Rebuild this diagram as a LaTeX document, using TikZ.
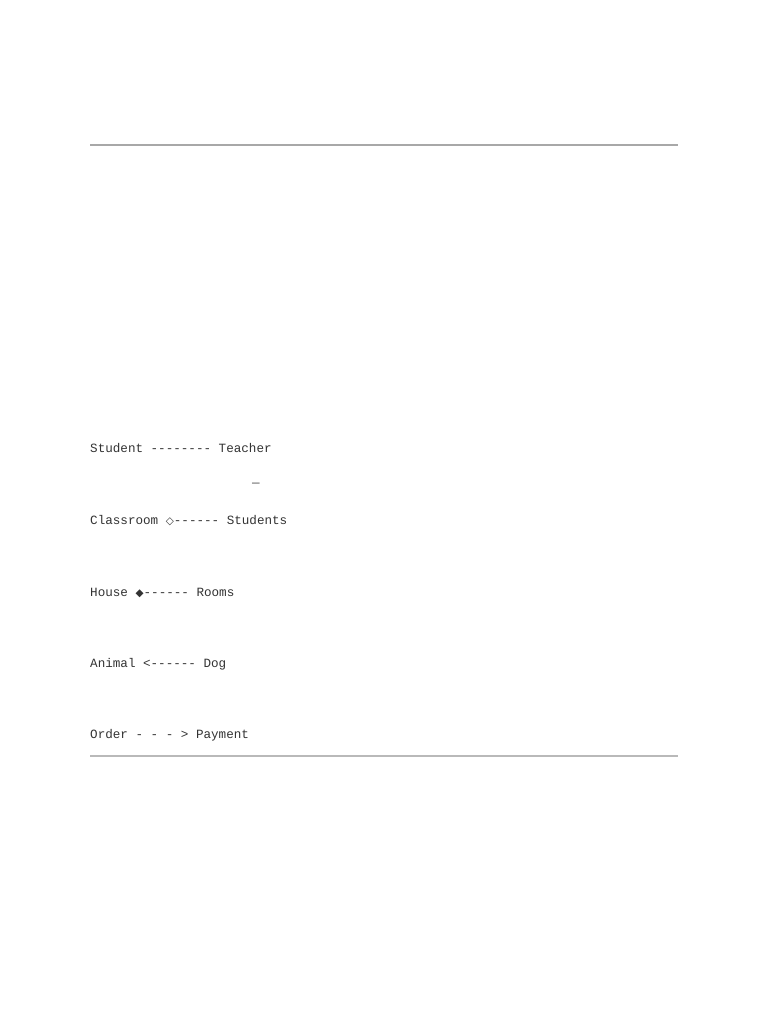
\documentclass[tikz,border=0pt]{standalone}
\usepackage{fontspec}
\setmonofont{Liberation Mono}
\newfontfamily\diamondfont{DejaVu Sans}
\usepackage{tikz}

\definecolor{textgray}{HTML}{333333}
\definecolor{rulegray}{HTML}{A8A8A8}

\tikzset{
    rowtext/.style={anchor=base west, inner sep=0, text=textgray, font=\ttfamily\fontsize{12.6}{15}\selectfont},
    hrule/.style={rulegray, line width=1.6pt}
}

\begin{document}
\begin{tikzpicture}[x=1pt, y=-1pt]
                \useasboundingbox[fill=white] (0,0) rectangle (768,1024);

                \coordinate (topL) at (90,145);
                \coordinate (topR) at (678,145);
                \coordinate (botL) at (90,756);
                \coordinate (botR) at (678,756);

                \draw[hrule] (topL) -- (topR);

                \node[rowtext](student) at (90,452) {Student -------- Teacher};
                \node[rowtext, text=black, font=\ttfamily\bfseries\fontsize{12.6}{15}\selectfont](mark) at (252,482) {\_};
                \node[rowtext](classroom) at (90,524) {Classroom {\diamondfont\fontsize{10.5}{15}\selectfont\char"25C7}------ Students};
                \node[rowtext](house) at (90,596) {House {\diamondfont\fontsize{10.5}{15}\selectfont\char"25C6}------ Rooms};
                \node[rowtext](animal) at (90,667) {Animal <------ Dog};
                \node[rowtext](order) at (90,738) {Order - - - > Payment};

                \draw[hrule, line width=2.6pt, rulegray!110!black] (botL) -- (botR);
\end{tikzpicture}
\end{document}
